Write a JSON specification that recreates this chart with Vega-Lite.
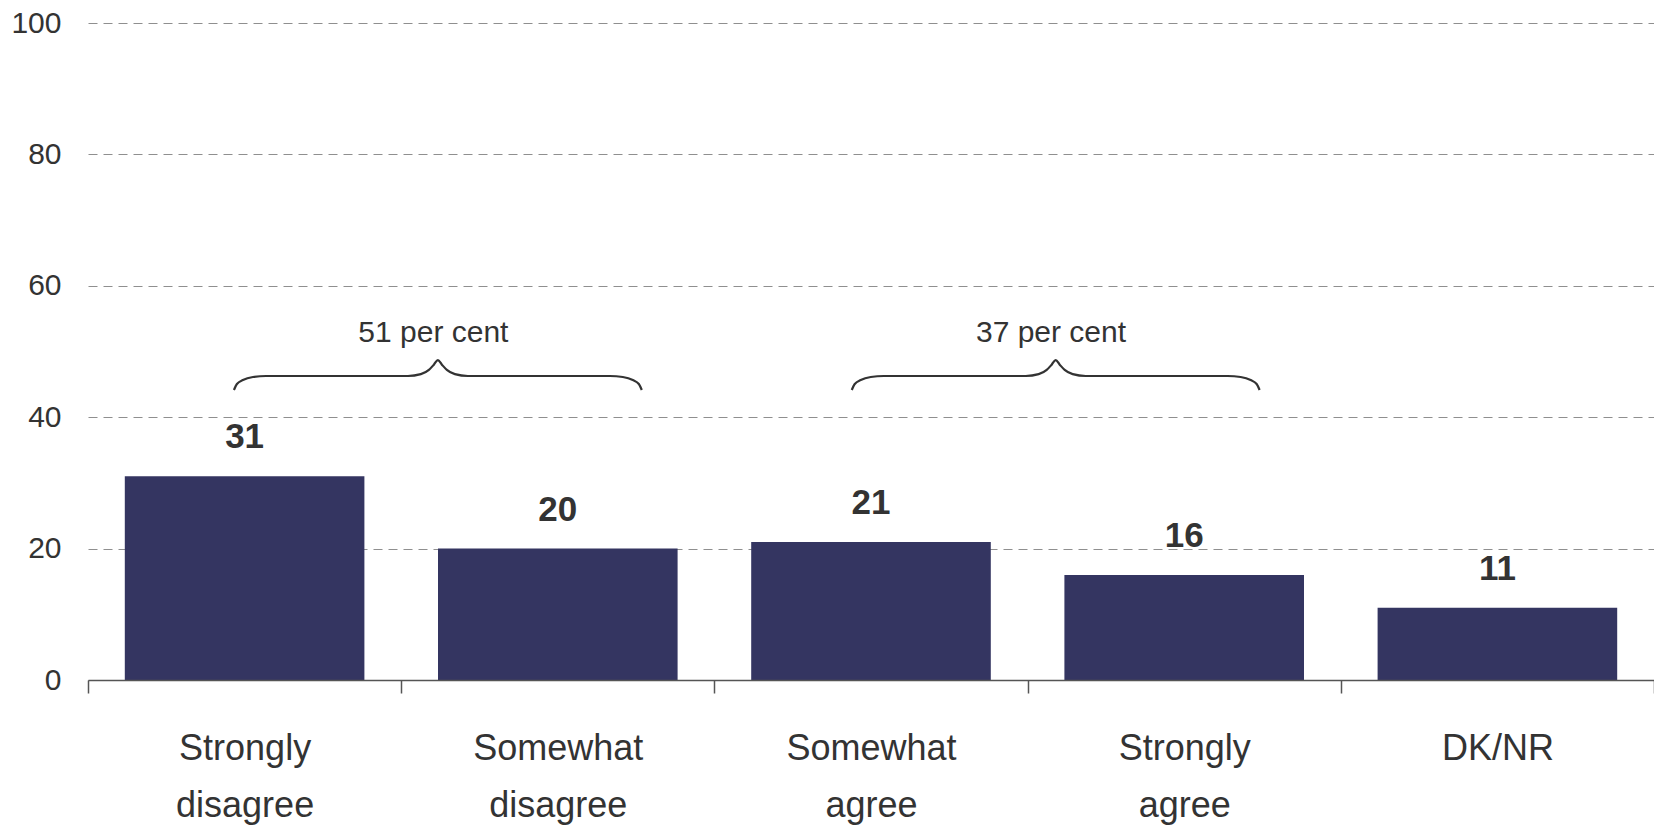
{
  "$schema": "https://vega.github.io/schema/vega-lite/v6.json",
  "autosize": {"type": "none"},
  "width": 1566,
  "height": 657,
  "padding": {"left": 88, "top": 23, "right": 0, "bottom": 145},
  "background": "white",
  "config": {
    "view": {"stroke": null},
    "font": "Liberation Sans",
    "axis": {"labelFont": "Liberation Sans", "labelColor": "#333333"}
  },
  "layer": [
    {
      "data": {
        "values": [
          {"category": "Strongly disagree", "value": 31},
          {"category": "Somewhat disagree", "value": 20},
          {"category": "Somewhat agree", "value": 21},
          {"category": "Strongly agree", "value": 16},
          {"category": "DK/NR", "value": 11}
        ]
      },
      "encoding": {
        "x": {
          "field": "category",
          "type": "nominal",
          "sort": null,
          "scale": {"paddingInner": 0, "paddingOuter": 0},
          "axis": {
            "title": null,
            "labelAngle": 0,
            "labelFontSize": 36,
            "labelLineHeight": 57,
            "labelBaseline": "alphabetic",
            "labelPadding": 66,
            "labelExpr": "split(datum.label, ' ')",
            "tickBand": "extent",
            "tickSize": 13,
            "tickColor": "#555555",
            "tickWidth": 1.5,
            "domainColor": "#555555",
            "domainWidth": 1.5,
            "grid": false,
            "zindex": 1
          }
        },
        "y": {
          "field": "value",
          "type": "quantitative",
          "scale": {"domain": [0, 100], "nice": false},
          "axis": {
            "title": null,
            "values": [0, 20, 40, 60, 80, 100],
            "domain": false,
            "ticks": false,
            "labelFontSize": 30,
            "labelPadding": 27,
            "grid": true,
            "gridDash": [9, 6],
            "gridColor": "#8f8f8f",
            "gridWidth": 1
          }
        }
      },
      "layer": [
        {"mark": {"type": "bar", "color": "#343561", "width": {"band": 0.765}}},
        {
          "mark": {"type": "text", "fontSize": 35, "fontWeight": "bold", "color": "#333333", "baseline": "alphabetic", "dy": -28},
          "encoding": {"text": {"field": "value", "type": "quantitative"}}
        }
      ]
    },
    {
      "data": {
        "values": [
          {"brace": "a", "u": 0.4660, "v": 44.14},
          {"brace": "a", "u": 0.4755, "v": 45.05},
          {"brace": "a", "u": 0.4947, "v": 45.66},
          {"brace": "a", "u": 0.5266, "v": 46.12},
          {"brace": "a", "u": 0.5681, "v": 46.27},
          {"brace": "a", "u": 1.0213, "v": 46.27},
          {"brace": "a", "u": 1.0628, "v": 46.55},
          {"brace": "a", "u": 1.0884, "v": 47.20},
          {"brace": "a", "u": 1.1043, "v": 48.00},
          {"brace": "a", "u": 1.1171, "v": 48.70},
          {"brace": "a", "u": 1.1299, "v": 48.00},
          {"brace": "a", "u": 1.1458, "v": 47.20},
          {"brace": "a", "u": 1.1714, "v": 46.55},
          {"brace": "a", "u": 1.2129, "v": 46.27},
          {"brace": "a", "u": 1.6661, "v": 46.27},
          {"brace": "a", "u": 1.7076, "v": 46.12},
          {"brace": "a", "u": 1.7395, "v": 45.66},
          {"brace": "a", "u": 1.7587, "v": 45.05},
          {"brace": "a", "u": 1.7682, "v": 44.14},
          {"brace": "b", "u": 2.4386, "v": 44.14},
          {"brace": "b", "u": 2.4481, "v": 45.05},
          {"brace": "b", "u": 2.4673, "v": 45.66},
          {"brace": "b", "u": 2.4992, "v": 46.12},
          {"brace": "b", "u": 2.5407, "v": 46.27},
          {"brace": "b", "u": 2.9939, "v": 46.27},
          {"brace": "b", "u": 3.0354, "v": 46.55},
          {"brace": "b", "u": 3.0610, "v": 47.20},
          {"brace": "b", "u": 3.0769, "v": 48.00},
          {"brace": "b", "u": 3.0897, "v": 48.70},
          {"brace": "b", "u": 3.1025, "v": 48.00},
          {"brace": "b", "u": 3.1184, "v": 47.20},
          {"brace": "b", "u": 3.1440, "v": 46.55},
          {"brace": "b", "u": 3.1855, "v": 46.27},
          {"brace": "b", "u": 3.6387, "v": 46.27},
          {"brace": "b", "u": 3.6802, "v": 46.12},
          {"brace": "b", "u": 3.7121, "v": 45.66},
          {"brace": "b", "u": 3.7313, "v": 45.05},
          {"brace": "b", "u": 3.7408, "v": 44.14}
        ]
      },
      "mark": {"type": "line", "color": "#333333", "strokeWidth": 2.2, "interpolate": "monotone"},
      "encoding": {
        "x": {"field": "u", "type": "quantitative", "scale": {"domain": [0, 5], "nice": false, "zero": false}, "axis": null},
        "y": {"field": "v", "type": "quantitative"},
        "detail": {"field": "brace", "type": "nominal"}
      }
    },
    {
      "data": {
        "values": [
          {"label": "51 per cent", "u": 1.1028, "v": 51.5},
          {"label": "37 per cent", "u": 3.0747, "v": 51.5}
        ]
      },
      "mark": {"type": "text", "fontSize": 30, "color": "#333333", "baseline": "alphabetic", "align": "center"},
      "encoding": {
        "x": {"field": "u", "type": "quantitative", "scale": {"domain": [0, 5], "nice": false, "zero": false}, "axis": null},
        "y": {"field": "v", "type": "quantitative"},
        "text": {"field": "label"}
      }
    }
  ],
  "resolve": {"scale": {"x": "independent"}}
}
